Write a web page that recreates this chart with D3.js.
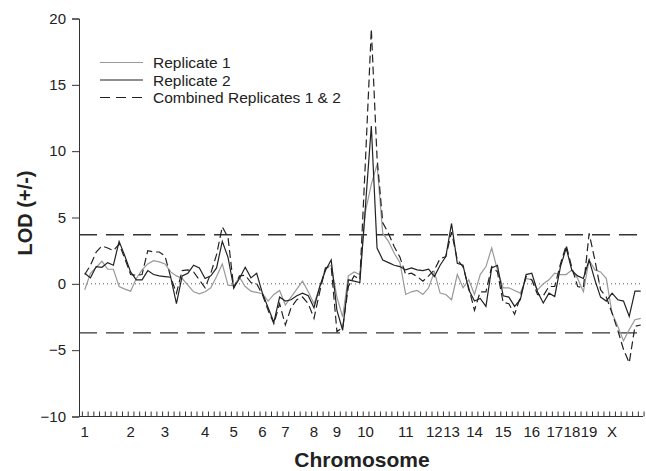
<!DOCTYPE html>
<html><head><meta charset="utf-8">
<script src="https://cdn.jsdelivr.net/npm/d3@7"></script>
<style>body{margin:0;background:#fff} text{font-family:Arial,"Liberation Sans",sans-serif}</style>
</head><body><svg id="c" width="646" height="471"></svg>
<script>
const rep1 = [-0.45,0.8,1.25,1.7,1.1,1.1,-0.2,-0.4,-0.55,0.4,1.05,1.5,1.75,1.65,1.5,0.9,0.6,0.4,-0.1,-0.6,
-0.75,-0.6,-0.3,0.55,1.5,-0.1,-0.15,0.5,-0.2,-0.55,-0.65,-0.75,-1.3,-0.8,-0.5,-1.6,-1.0,-0.4,0.2,-0.6,
-1.5,-0.3,1.2,1.4,-1.0,-2.5,0.6,0.9,0.7,5.5,7.5,9.0,3.8,3.2,2.3,1.6,-0.8,-0.6,-0.5,-0.8,
-0.3,0.9,-0.7,-0.8,-1.2,0.7,-0.3,0.3,-0.8,0.7,1.3,2.7,1.05,-0.3,-0.3,-0.5,-0.7,0.4,0.3,-0.45,
0.0,0.3,0.8,0.7,0.7,1.05,0.4,-0.6,1.8,1.05,0.9,0.4,-2.2,-3.2,-4.3,-3.45,-2.7,-2.6];
const rep2 = [0.8,0.45,1.3,1.25,1.6,1.4,3.2,2.1,0.9,0.3,0.3,1.0,0.7,0.6,0.55,0.5,-1.5,0.6,0.8,1.4,
1.2,0.4,0.6,1.2,3.2,2.0,-0.3,0.4,1.25,0.45,0.8,-0.7,-1.8,-2.9,-1.0,-1.3,-1.2,-0.9,-0.7,-0.9,
-1.8,-0.2,1.0,1.8,-2.0,-3.5,0.3,0.2,0.1,6.0,11.9,2.7,1.8,1.6,1.4,1.3,1.05,1.2,1.05,1.0,
1.1,0.55,1.4,2.05,4.55,1.55,1.4,-0.45,-1.3,-1.1,-1.7,1.2,1.4,-0.9,-1.0,-1.7,-1.2,0.7,0.8,-0.6,
-1.45,-0.7,-0.95,1.3,2.7,1.0,0.6,0.4,1.8,0.3,-1.0,-1.3,-0.7,-1.2,-1.3,-2.45,-0.55,-0.55];
const combined = [0.7,1.4,2.4,2.85,2.7,2.5,3.0,1.9,0.7,0.65,0.7,2.5,2.4,2.4,2.1,0.5,-0.7,1.0,1.05,0.9,
0.3,-0.3,0.8,2.2,4.3,3.5,-0.3,0.6,0.65,0.1,0.0,-0.8,-2.0,-3.0,-1.5,-3.1,-1.8,-1.2,-1.0,-1.5,
-2.6,-0.6,1.2,1.3,-3.6,-3.3,-0.2,0.6,0.3,9.5,19.2,9.5,4.6,3.8,2.8,2.0,0.7,0.8,0.55,0.2,
0.6,1.05,1.9,2.05,3.9,1.8,1.3,-0.3,-2.0,-0.6,-0.6,1.3,0.9,-1.4,-1.5,-2.3,-1.0,0.55,0.3,-0.8,
-0.9,-0.2,-0.2,1.5,2.9,1.2,-0.2,-0.3,3.8,1.8,-0.45,-1.0,-2.2,-3.5,-4.95,-5.95,-3.2,-3.1];
const chromLabels = ["1","2","3","4","5","6","7","8","9","10","11","12","13","14","15","16","17","18","19","X"];
const chromStart = [0,8,14,21,26,31,35,40,44,49,56,61,64,68,73,78,82,85,88,92];
const yTicks = [-10,-5,0,5,10,15,20];
const threshold = 3.7;
const seriesNames = ["Replicate 1","Replicate 2","Combined Replicates 1 & 2"];

const N = rep1.length;
const svg = d3.select("#c");
const x = d3.scaleLinear().domain([-1, N - 0.6]).range([79, 643]);
const y = d3.scaleLinear().domain([-10, 20]).range([416.5, 18.5]);

// threshold lines & zero line
[threshold, -threshold].forEach(t => {
  svg.append("line").attr("x1", x(-1)).attr("x2", x(N - 1)).attr("y1", y(t)).attr("y2", y(t))
    .attr("stroke", "#333").attr("stroke-width", 1.3).attr("stroke-dasharray", "18,9");
});
svg.append("line").attr("x1", x(-1)).attr("x2", x(N - 1)).attr("y1", y(0)).attr("y2", y(0))
  .attr("stroke", "#555").attr("stroke-width", 1).attr("stroke-dasharray", "1,3");

// y axis
const yAxis = svg.append("g").attr("transform", `translate(${x(-1)},0)`)
  .call(d3.axisLeft(y).tickValues(yTicks).tickSize(7).tickPadding(6));
yAxis.select(".domain").attr("stroke", "#333");
yAxis.selectAll(".tick line").attr("stroke", "#333");
yAxis.selectAll("text").attr("font-size", 15).attr("fill", "#222");

// x axis
const tickPos = d3.range(-0.5, N, 1);
const xAxis = svg.append("g").attr("transform", `translate(0,${y(-10)})`)
  .call(d3.axisBottom(x).tickValues(tickPos).tickSize(-5).tickFormat(""));
xAxis.select(".domain").attr("stroke", "#333").attr("d", `M${x(-1)},0H${x(N - 0.6)}`);
xAxis.selectAll(".tick line").attr("stroke", "#333");

svg.append("g").selectAll("text").data(chromLabels).join("text")
  .attr("x", (d, k) => x(chromStart[k])).attr("y", 437)
  .attr("text-anchor", "middle").attr("font-size", 15).attr("fill", "#222").text(d => d);

// series
const line = d3.line().x((d, i) => x(i)).y(d => y(d));
const styles = [
  {data: rep1, stroke: "#999", dash: null},
  {data: rep2, stroke: "#222", dash: null},
  {data: combined, stroke: "#222", dash: "8,4"}
];
styles.forEach(s => {
  svg.append("path").attr("d", line(s.data)).attr("fill", "none")
    .attr("stroke", s.stroke).attr("stroke-width", 1.2)
    .attr("stroke-dasharray", s.dash);
});

// legend
const lg = svg.append("g");
styles.forEach((s, k) => {
  const ly = 62.5 + k * 17.5;
  lg.append("line").attr("x1", 100).attr("x2", 143).attr("y1", ly).attr("y2", ly)
    .attr("stroke", s.stroke).attr("stroke-width", 1.2).attr("stroke-dasharray", s.dash ? "10,6" : null);
  lg.append("text").attr("x", 153).attr("y", ly + 5.5).attr("font-size", 15.5).attr("fill", "#222")
    .text(seriesNames[k]);
});

// axis titles
svg.append("text").attr("transform", "translate(32,213) rotate(-90)").attr("text-anchor", "middle")
  .attr("font-size", 20).attr("font-weight", "bold").attr("fill", "#222").text("LOD (+/-)");
svg.append("text").attr("x", 362).attr("y", 467).attr("text-anchor", "middle")
  .attr("font-size", 21).attr("font-weight", "bold").attr("fill", "#222").text("Chromosome");
</script></body></html>
